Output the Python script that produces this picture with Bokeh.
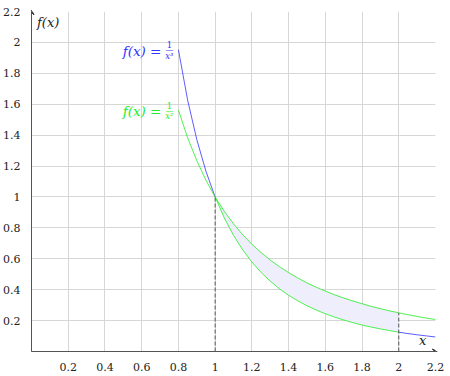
from bokeh.plotting import figure
from bokeh.models import FixedTicker, Arrow, VeeHead, Label
from bokeh.core.properties import value
from bokeh.embed import file_html
from bokeh.resources import INLINE

xs = [0.8, 0.85, 0.9, 0.95, 1.0, 1.05, 1.1, 1.15, 1.2, 1.25, 1.3, 1.35, 1.4, 1.45,
      1.5, 1.55, 1.6, 1.65, 1.7, 1.75, 1.8, 1.85, 1.9, 1.95, 2.0, 2.05, 2.1, 2.15, 2.2]
f_cube = [1.953, 1.628, 1.372, 1.166, 1.0, 0.864, 0.751, 0.658, 0.579, 0.512, 0.455,
          0.406, 0.364, 0.328, 0.296, 0.269, 0.244, 0.223, 0.204, 0.187, 0.171, 0.158,
          0.146, 0.135, 0.125, 0.116, 0.108, 0.101, 0.094]
f_sq = [1.5625, 1.384, 1.235, 1.108, 1.0, 0.907, 0.826, 0.756, 0.694, 0.640, 0.592,
        0.549, 0.510, 0.476, 0.444, 0.416, 0.391, 0.367, 0.346, 0.327, 0.309, 0.292,
        0.277, 0.263, 0.25, 0.238, 0.227, 0.216, 0.207]
x_ticks = [0.2, 0.4, 0.6, 0.8, 1.0, 1.2, 1.4, 1.6, 1.8, 2.0, 2.2]
y_ticks = [0.2, 0.4, 0.6, 0.8, 1.0, 1.2, 1.4, 1.6, 1.8, 2.0, 2.2]
tick_labels = ["0.2", "0.4", "0.6", "0.8", "1", "1.2", "1.4", "1.6", "1.8", "2", "2.2"]
shade_from, shade_to = 1.0, 2.0

SERIF = "DejaVu Serif"
BLUE = "#3333ff"
GREEN = "#22ee22"

p = figure(width=450, height=376, x_range=(0, 2.2), y_range=(0, 2.2),
           output_backend="svg", toolbar_location=None,
           min_border_left=31, min_border_right=15, min_border_top=11, min_border_bottom=25)
p.outline_line_color = None
p.background_fill_color = "white"

for ax, ticks in ((p.xaxis, x_ticks), (p.yaxis, y_ticks)):
    ax.ticker = FixedTicker(ticks=ticks)
    ax.major_label_overrides = {t: l for t, l in zip(ticks, tick_labels)}
    ax.axis_line_color = "#555555"
    ax.axis_line_width = 1
    ax.major_tick_line_color = None
    ax.minor_tick_line_color = None
    ax.major_label_text_font = SERIF
    ax.major_label_text_font_size = "11px"
    ax.major_label_text_color = "#222222"
    ax.major_label_standoff = 5

p.xgrid.ticker = FixedTicker(ticks=x_ticks)
p.ygrid.ticker = FixedTicker(ticks=y_ticks)
p.grid.grid_line_color = "#d6d6d6"
p.grid.grid_line_width = 1

# shaded region
idx = [i for i, x in enumerate(xs) if shade_from <= x <= shade_to]
sx = [xs[i] for i in idx]
s_lo = [f_cube[i] for i in idx]
s_hi = [f_sq[i] for i in idx]
p.varea(x=sx, y1=s_lo, y2=s_hi, fill_color="#eeeefc", fill_alpha=1)

# curves
left = [i for i, x in enumerate(xs) if x <= shade_from]
right = [i for i, x in enumerate(xs) if x >= shade_to]
p.line([xs[i] for i in left], [f_cube[i] for i in left], line_color=BLUE, line_width=0.8)
p.line([xs[i] for i in right], [f_cube[i] for i in right], line_color=BLUE, line_width=0.8)
p.line(sx, s_lo, line_color=GREEN, line_width=0.8)
p.line(xs, f_sq, line_color=GREEN, line_width=0.8)

# dashed verticals
p.segment(x0=[shade_from, shade_to], y0=[0, 0], x1=[shade_from, shade_to],
          y1=[f_sq[xs.index(shade_from)], f_sq[xs.index(shade_to)]],
          line_color="#555555", line_dash="4 2", line_width=1)

# axis arrows
p.add_layout(Arrow(x_start=0, y_start=0, x_end=2.21, y_end=0, line_color="#555555",
                   line_width=1, end=VeeHead(size=5, line_color="#333333", fill_color="#333333")))
p.add_layout(Arrow(x_start=0, y_start=0, x_end=0, y_end=2.21, line_color="#555555",
                   line_width=1, end=VeeHead(size=5, line_color="#333333", fill_color="#333333")))

# axis labels
p.add_layout(Label(x=0.03, y=2.18, text="f(x)", text_font=SERIF, text_font_style="italic",
                   text_font_size="13px", text_baseline="top", text_color="#222222"))
p.add_layout(Label(x=2.15, y=0.02, text="x", text_font=SERIF, text_font_style="italic",
                   text_font_size="13px", text_baseline="bottom", text_align="right",
                   text_color="#222222"))

# curve labels
for ys, col, exp in ((f_cube, BLUE, "x³"), (f_sq, GREEN, "x²")):
    x0, y0 = xs[0], ys[0]
    p.text(x=[x0], y=[y0], text=["f(x) ="], x_offset=-17, y_offset=1,
           text_align="right", text_baseline="middle", text_color=col,
           text_font=value(SERIF), text_font_style="italic", text_font_size="13.5px")
    p.text(x=[x0], y=[y0], text=["1"], x_offset=-9, y_offset=-5,
           text_align="center", text_baseline="middle", text_color=col,
           text_font=value(SERIF), text_font_size="8.5px")
    p.text(x=[x0], y=[y0], text=[exp], x_offset=-9, y_offset=6,
           text_align="center", text_baseline="middle", text_color=col,
           text_font=value(SERIF), text_font_style="italic", text_font_size="8.5px")
    p.text(x=[x0], y=[y0], text=["—"], x_offset=-9, y_offset=0,
           text_align="center", text_baseline="middle", text_color=col,
           text_font=value(SERIF), text_font_size="8px")

open("out.html", "w").write(file_html(p, INLINE))
